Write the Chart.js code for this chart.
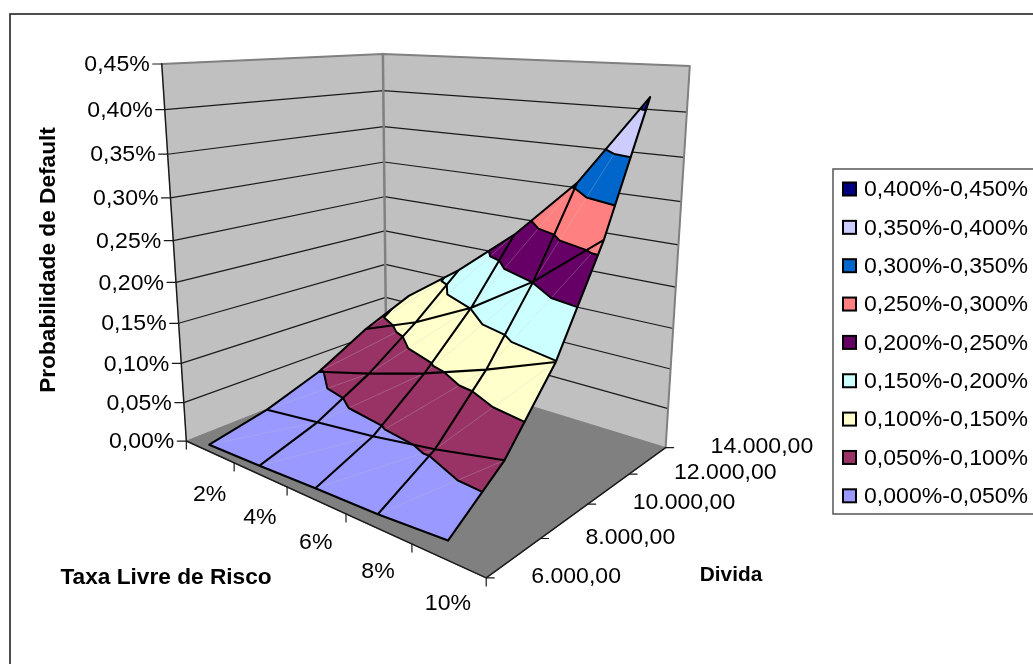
<!DOCTYPE html>
<html>
<head>
<meta charset="utf-8">
<title>Probabilidade de Default</title>
<style>
  body { margin: 0; background: #fff; }
  canvas { display: block; }
</style>
<script src="https://cdn.jsdelivr.net/npm/chart.js@4/dist/chart.umd.min.js"></script>
</head>
<body>
<canvas id="surface-chart" width="1033" height="664"></canvas>
<script>
var rate_labels = ['2%', '4%', '6%', '8%', '10%'];
var debt_labels = ['6.000,00', '8.000,00', '10.000,00', '12.000,00', '14.000,00'];
var prob_labels = ['0,00%', '0,05%', '0,10%', '0,15%', '0,20%', '0,25%', '0,30%', '0,35%', '0,40%', '0,45%'];

// Probability of default (%), one row per rate, one column per debt level
var prob_rate_2 = [0.009, 0.024, 0.048, 0.084, 0.111];
var prob_rate_4 = [0.011, 0.033, 0.068, 0.113, 0.165];
var prob_rate_6 = [0.014, 0.042, 0.091, 0.151, 0.228];
var prob_rate_8 = [0.016, 0.054, 0.118, 0.201, 0.306];
var prob_rate_10 = [0.021, 0.070, 0.149, 0.265, 0.414];
var prob_rows = [prob_rate_2, prob_rate_4, prob_rate_6, prob_rate_8, prob_rate_10];

var band_edges = [0, 0.05, 0.10, 0.15, 0.20, 0.25, 0.30, 0.35, 0.40, 0.45];
var band_labels = ['0,000%-0,050%', '0,050%-0,100%', '0,100%-0,150%', '0,150%-0,200%', '0,200%-0,250%',
                   '0,250%-0,300%', '0,300%-0,350%', '0,350%-0,400%', '0,400%-0,450%'];
var band_colors = ['#9999FF', '#993366', '#FFFFCC', '#CCFFFF', '#660066', '#FF8080', '#0066CC', '#CCCCFF', '#000080'];

// Perspective camera: box coordinates (rate, debt, height in 0..1) to screen
var camera = [
  [182.75611, 288.37827, -39.40293, 186.32786],
  [-2.32929, 3.35368, -382.92637, 441.0491],
  [-0.24089, 0.22864, -0.09174, 1]
];
var prob_max = 0.45;

function project(u, v, w)
{
  var d = camera[2][0] * u + camera[2][1] * v + camera[2][2] * w + 1;
  return {
    x: (camera[0][0] * u + camera[0][1] * v + camera[0][2] * w + camera[0][3]) / d,
    y: (camera[1][0] * u + camera[1][1] * v + camera[1][2] * w + camera[1][3]) / d
  };
}

// Rates sit in the middle of their category, debts sit on the ticks
function rate_pos(i) { return (i + 0.5) / rate_labels.length; }
function debt_pos(j) { return j / (debt_labels.length - 1); }

function vertex(i, j)
{
  return { u: rate_pos(i), v: debt_pos(j), z: prob_rows[i][j] };
}

function to_screen(p)
{
  return project(p.u, p.v, p.z / prob_max);
}

function lerp_vertex(a, b, level)
{
  var t = (level - a.z) / (b.z - a.z);
  return { u: a.u + (b.u - a.u) * t, v: a.v + (b.v - a.v) * t, z: level };
}

// Clip a polygon against one height, keeping the part above or below it
function clip_poly(poly, level, keep_above)
{
  var out = [];
  for (var k = 0; k < poly.length; k++)
  {
    var a = poly[k];
    var b = poly[(k + 1) % poly.length];
    var a_in = keep_above ? a.z >= level : a.z <= level;
    var b_in = keep_above ? b.z >= level : b.z <= level;
    if (a_in) out.push(a);
    if (a_in != b_in) out.push(lerp_vertex(a, b, level));
  }
  return out;
}

// Each grid cell is split in two along the same diagonal
var triangles = [];
for (var i = 0; i < rate_labels.length - 1; i++)
{
  for (var j = 0; j < debt_labels.length - 1; j++)
  {
    triangles.push([vertex(i, j), vertex(i + 1, j), vertex(i + 1, j + 1)]);
    triangles.push([vertex(i, j), vertex(i + 1, j + 1), vertex(i, j + 1)]);
  }
}

var GAP = { x: NaN, y: NaN };

function line_ds(data, color, width)
{
  return {
    data: data,
    showLine: true,
    fill: false,
    pointRadius: 0,
    tension: 0,
    borderColor: color,
    borderWidth: width,
    borderJoinStyle: 'round',
    borderCapStyle: 'round'
  };
}

function fill_ds(data, color, edge, width)
{
  var ds = line_ds(data.concat([data[0]]), edge, width);
  ds.fill = 'shape';
  ds.backgroundColor = color;
  return ds;
}

var datasets = [];

// Back walls and floor
datasets.push(fill_ds([project(0, 0, 0), project(0, 1, 0), project(0, 1, 1), project(0, 0, 1)], '#C0C0C0', '#C0C0C0', 1));
datasets.push(fill_ds([project(0, 1, 0), project(1, 1, 0), project(1, 1, 1), project(0, 1, 1)], '#C0C0C0', '#C0C0C0', 1));
datasets.push(fill_ds([project(0, 0, 0), project(1, 0, 0), project(1, 1, 0), project(0, 1, 0)], '#808080', '#808080', 1));

// Gridlines on the walls
var wall_grid = [];
for (var g = 1; g < prob_labels.length - 1; g++)
{
  var w = g / (prob_labels.length - 1);
  wall_grid.push(project(0, 0, w), project(0, 1, w), project(1, 1, w), GAP);
}
datasets.push(line_ds(wall_grid, '#1a1a1a', 1.2));
datasets.push(line_ds([project(0, 0, 1), project(0, 1, 1), project(1, 1, 1), project(1, 1, 0)], '#808080', 2));
datasets.push(line_ds([project(0, 1, 0), project(0, 1, 1)], '#808080', 2.5));

// Axis lines and tick marks
datasets.push(line_ds([project(0, 0, 1), project(0, 0, 0), project(1, 0, 0), project(1, 1, 0)], '#1a1a1a', 1.5));
var tick_marks = [];
prob_labels.forEach(function (label, n) {
  var p = project(0, 0, n / (prob_labels.length - 1));
  tick_marks.push(p, { x: p.x - 9, y: p.y }, GAP);
});
for (var r = 0; r <= rate_labels.length; r++)
{
  var p = project(r / rate_labels.length, 0, 0);
  tick_marks.push(p, { x: p.x, y: p.y + 8 }, GAP);
}
debt_labels.forEach(function (label, n) {
  var p = project(1, debt_pos(n), 0);
  tick_marks.push(p, { x: p.x + 8, y: p.y }, GAP);
});
datasets.push(line_ds(tick_marks, '#1a1a1a', 1.2));

// Surface, one filled piece per triangle and colour band
band_colors.forEach(function (color, b) {
  triangles.forEach(function (tri) {
    var poly = clip_poly(tri, band_edges[b], true);
    if (poly.length) poly = clip_poly(poly, band_edges[b + 1], false);
    if (poly.length >= 3) datasets.push(fill_ds(poly.map(to_screen), color, color, 0.6));
  });
});

// Faint diagonals of the triangulated cells
var diagonals = [];
for (var a = 0; a < rate_labels.length - 1; a++)
{
  for (var c = 0; c < debt_labels.length - 1; c++)
  {
    diagonals.push(to_screen(vertex(a, c)), to_screen(vertex(a + 1, c + 1)), GAP);
  }
}
datasets.push(line_ds(diagonals, 'rgba(205,205,205,0.35)', 0.7));

// Contours where the colour changes
var contours = [];
band_edges.slice(1, -1).forEach(function (level) {
  triangles.forEach(function (tri) {
    var hits = [];
    for (var k = 0; k < 3; k++)
    {
      var a = tri[k];
      var b = tri[(k + 1) % 3];
      if ((a.z - level) * (b.z - level) < 0) hits.push(to_screen(lerp_vertex(a, b, level)));
    }
    if (hits.length == 2) contours.push(hits[0], hits[1], GAP);
  });
});
datasets.push(line_ds(contours, '#000', 2));

// Mesh lines and the outline of the surface
var mesh = [];
prob_rows.forEach(function (row, n) {
  row.forEach(function (value, m) { mesh.push(to_screen(vertex(n, m))); });
  mesh.push(GAP);
});
debt_labels.forEach(function (label, m) {
  prob_rows.forEach(function (row, n) { mesh.push(to_screen(vertex(n, m))); });
  mesh.push(GAP);
});
datasets.push(line_ds(mesh, '#000', 2.1));

// Chart.js paints the first dataset last, so flip to keep the walls at the back
datasets.reverse();

function draw_text(ctx, text, x, y, opts)
{
  ctx.save();
  ctx.translate(x, y);
  if (opts.rotate) ctx.rotate(opts.rotate);
  ctx.scale(1.03, 1);
  ctx.font = (opts.bold ? 'bold ' : '') + opts.size + 'px "Liberation Sans", Arial, sans-serif';
  ctx.fillStyle = '#000';
  ctx.textAlign = opts.align || 'center';
  ctx.textBaseline = 'middle';
  ctx.fillText(text, 0, 0);
  ctx.restore();
}

var text_plugin = {
  id: 'surface_text',
  afterDraw: function (chart) {
    var ctx = chart.ctx;
    var sx = chart.scales.x;
    var sy = chart.scales.y;
    function px(p) { return { x: sx.getPixelForValue(p.x), y: sy.getPixelForValue(p.y) }; }

    // Chart frame runs off the right and bottom of the canvas
    ctx.save();
    ctx.strokeStyle = '#222';
    ctx.lineWidth = 1.6;
    ctx.strokeRect(10, 14, 1200, 800);
    ctx.restore();

    prob_labels.forEach(function (label, n) {
      var p = px(project(0, 0, n / (prob_labels.length - 1)));
      draw_text(ctx, label, p.x - 12, p.y + 1, { size: 22.4, align: 'right' });
    });
    rate_labels.forEach(function (label, n) {
      var p = px(project(rate_pos(n), 0, 0));
      draw_text(ctx, label, p.x, p.y + 43, { size: 22.4 });
    });
    debt_labels.forEach(function (label, n) {
      var p = px(project(1, debt_pos(n), 0));
      draw_text(ctx, label, p.x + 45, p.y - 1, { size: 22.4, align: 'left' });
    });

    draw_text(ctx, 'Taxa Livre de Risco', 166, 578, { size: 22, bold: true });
    draw_text(ctx, 'Divida', 731, 575, { size: 20.2, bold: true });
    draw_text(ctx, 'Probabilidade de Default', 49, 260, { size: 22, bold: true, rotate: -Math.PI / 2 });

    // Legend, top band first
    ctx.save();
    ctx.strokeStyle = '#555';
    ctx.lineWidth = 1.5;
    ctx.strokeRect(833, 169, 400, 345);
    for (var b = band_colors.length - 1; b >= 0; b--)
    {
      var row_y = 189 + (band_colors.length - 1 - b) * 38.35;
      ctx.fillStyle = band_colors[b];
      ctx.strokeStyle = '#000';
      ctx.lineWidth = 2;
      ctx.fillRect(843, row_y - 6.5, 13, 13);
      ctx.strokeRect(843, row_y - 6.5, 13, 13);
      draw_text(ctx, band_labels[b], 864, row_y + 1, { size: 22.4, align: 'left' });
    }
    ctx.restore();
  }
};

var surface_chart = new Chart(document.getElementById('surface-chart'), {
  type: 'scatter',
  data: { datasets: datasets },
  plugins: [text_plugin],
  options: {
    responsive: false,
    animation: false,
    events: [],
    layout: { padding: 0 },
    scales: {
      x: { type: 'linear', min: 0, max: 1033, display: false },
      y: { type: 'linear', min: 0, max: 664, reverse: true, display: false }
    },
    plugins: {
      legend: { display: false },
      tooltip: { enabled: false }
    }
  }
});
</script>
</body>
</html>
